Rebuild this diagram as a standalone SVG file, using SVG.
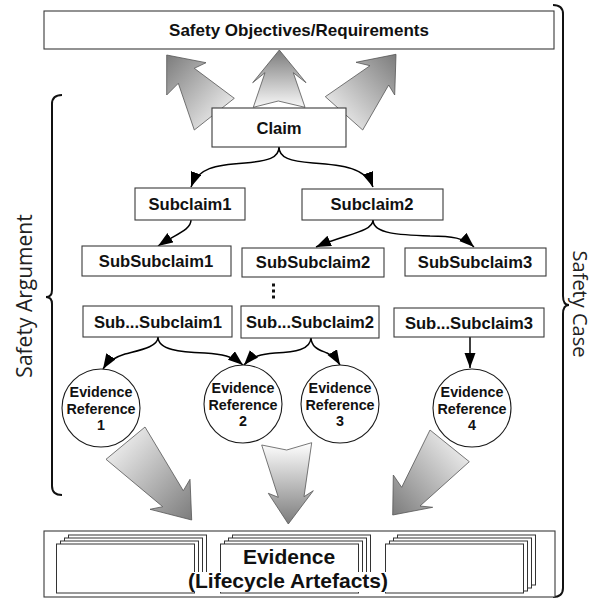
<svg xmlns="http://www.w3.org/2000/svg" width="596" height="603" viewBox="0 0 596 603">
<defs>
<style>
.box{fill:#fff;stroke:#3a3a3a;stroke-width:1.1}
.circ{fill:#fff;stroke:#1a1a1a;stroke-width:1.1}
.t{font-family:"Liberation Sans",Arial,sans-serif;font-weight:bold;fill:#111;text-anchor:middle}
.bt{font-size:16.6px}
.ct{font-size:14.3px}
.side{font-family:"Open Sans","Liberation Sans",sans-serif;font-size:21px;fill:#222;text-anchor:middle}
.con{fill:none;stroke:#000;stroke-width:1.5;marker-end:url(#ah)}
.brace{fill:none;stroke:#111;stroke-width:2}
.big{stroke:#555;stroke-width:0.8;stroke-linejoin:miter}
.sheet{fill:#fff;stroke:#333;stroke-width:1}
</style>
<marker id="ah" markerWidth="16" markerHeight="12" refX="15" refY="5.5" orient="auto" markerUnits="userSpaceOnUse">
<path d="M0,0 L15,5.5 L0,11 z" fill="#000"/>
</marker>
<linearGradient id="gUpL" x1="0" y1="0" x2="1" y2="1"><stop offset="0" stop-color="#7c7c7c"/><stop offset="1" stop-color="#ffffff"/></linearGradient>
<linearGradient id="gUpM" x1="0" y1="0" x2="0" y2="1"><stop offset="0" stop-color="#7c7c7c"/><stop offset="1" stop-color="#f8f8f8"/></linearGradient>
<linearGradient id="gUpR" x1="1" y1="0" x2="0" y2="1"><stop offset="0" stop-color="#7c7c7c"/><stop offset="1" stop-color="#ffffff"/></linearGradient>
<linearGradient id="gDnL" x1="0" y1="0" x2="1" y2="1"><stop offset="0" stop-color="#ffffff"/><stop offset="1" stop-color="#7c7c7c"/></linearGradient>
<linearGradient id="gDnM" x1="0" y1="0" x2="0" y2="1"><stop offset="0" stop-color="#ffffff"/><stop offset="1" stop-color="#7c7c7c"/></linearGradient>
<linearGradient id="gDnR" x1="1" y1="0" x2="0" y2="1"><stop offset="0" stop-color="#ffffff"/><stop offset="1" stop-color="#7c7c7c"/></linearGradient>
</defs>
<rect width="596" height="603" fill="#fff"/>

<!-- braces and side labels -->
<g id="safety-case">
<path class="brace" d="M553,5 Q563,5 563,14 L563,296 Q563,305 569,305 Q563,305 563,314 L563,588 Q563,597 553,597"/>
<text class="side" transform="translate(573,304) rotate(90)" font-size="20" style="font-size:20px">Safety Case</text>
</g>
<g id="safety-argument">
<path class="brace" d="M62,95 Q52,95 52,104 L52,290 Q52,297 46,297 Q52,297 52,304 L52,486 Q52,495 62,495"/>
<text class="side" transform="translate(32,296) rotate(-90)">Safety Argument</text>
</g>

<!-- big block arrows -->
<g id="big-arrows">
<polygon class="big" fill="url(#gUpL)" points="166.7,55 206,62.7 194.3,68.3 234.3,98.3 194.3,130 178.3,83.3 166.7,95"/>
<polygon class="big" fill="url(#gUpM)" points="279.3,50 306,82.7 293.3,72.7 305,107.3 278.3,101 253.3,107.3 265,72.7 252.7,82.7"/>
<polygon class="big" fill="url(#gUpR)" points="396,54.3 356,62.3 370,65.7 325.3,96.7 362.7,130 388.7,85 394.7,95"/>
<polygon class="big" fill="url(#gDnL)" points="145,427 183.3,490.7 190,479.3 191.7,520 150,509.3 162.7,506.7 106,459.3"/>
<polygon class="big" fill="url(#gDnM)" points="261.7,445 286.7,450 311.7,442.7 304,496.7 313.3,490.7 288.3,524 268.3,493.3 278.3,497.3"/>
<polygon class="big" fill="url(#gDnR)" points="430,430 401.7,487.3 393.3,475 392.7,515 432.7,507.3 420,506 469.3,461.7"/>
</g>

<!-- connectors -->
<g id="connectors">
<path class="con" d="M279,147 C279,158 268,161 245,163 C215,165 198,168 191,187"/>
<path class="con" d="M279,147 C279,158 290,161 313,163 C343,165 366,168 373,187"/>
<path class="con" d="M191,220 C191,230 176,234 158,246"/>
<path class="con" d="M373,220 C373,232 345,234 316,247"/>
<path class="con" d="M373,220 C373,234 400,235 430,236 C452,236 464,238 474,247"/>
<path class="con" d="M158,337 C158,347 140,350 125,354 C115,357 108,361 103,369"/>
<path class="con" d="M158,337 C158,350 180,352 205,353 C222,354 232,356 243,365"/>
<path class="con" d="M311,337 C311,350 295,352 275,353 C262,354 252,356 244,365"/>
<path class="con" d="M311,337 C311,348 320,350 327,353 C333,356 337,360 340,365"/>
<path class="con" d="M470,337 L470,368"/>
</g>

<!-- nodes -->
<g id="objectives">
<rect class="box" x="44" y="11" width="510" height="38"/>
<text class="t" x="299" y="36" font-size="17">Safety Objectives/Requirements</text>
</g>
<g id="claim">
<rect class="box" x="212" y="108" width="134" height="39"/>
<text class="t bt" x="279" y="134">Claim</text>
</g>
<g id="subclaim1">
<rect class="box" x="135" y="188" width="110" height="32"/>
<text class="t bt" x="190" y="210">Subclaim1</text>
</g>
<g id="subclaim2">
<rect class="box" x="302" y="189" width="141" height="31"/>
<text class="t bt" x="372" y="210">Subclaim2</text>
</g>
<g id="subsubclaim1">
<rect class="box" x="82" y="246" width="149" height="30"/>
<text class="t bt" x="156" y="267">SubSubclaim1</text>
</g>
<g id="subsubclaim2">
<rect class="box" x="242" y="248" width="142" height="29"/>
<text class="t bt" x="313" y="268">SubSubclaim2</text>
</g>
<g id="subsubclaim3">
<rect class="box" x="405" y="248" width="141" height="28"/>
<text class="t bt" x="475" y="268">SubSubclaim3</text>
</g>
<g id="ellipsis">
<rect x="272" y="283.5" width="3" height="3" fill="#111"/>
<rect x="272" y="289.5" width="3" height="3" fill="#111"/>
<rect x="272" y="295.5" width="3" height="3" fill="#111"/>
</g>
<g id="subdotsubclaim1">
<rect class="box" x="83" y="306" width="149" height="31"/>
<text class="t bt" x="158" y="328">Sub...Subclaim1</text>
</g>
<g id="subdotsubclaim2">
<rect class="box" x="241" y="306" width="138" height="32"/>
<text class="t bt" x="310" y="328">Sub...Subclaim2</text>
</g>
<g id="subdotsubclaim3">
<rect class="box" x="394" y="308" width="150" height="29"/>
<text class="t bt" x="469" y="329">Sub...Subclaim3</text>
</g>
<g id="evidence-ref-1">
<circle class="circ" cx="101" cy="408" r="39"/>
<text class="t ct" x="101" y="397">Evidence</text>
<text class="t ct" x="101" y="413.5">Reference</text>
<text class="t ct" x="101" y="430">1</text>
</g>
<g id="evidence-ref-2">
<circle class="circ" cx="243" cy="404" r="39"/>
<text class="t ct" x="243" y="393">Evidence</text>
<text class="t ct" x="243" y="409.5">Reference</text>
<text class="t ct" x="243" y="426">2</text>
</g>
<g id="evidence-ref-3">
<circle class="circ" cx="340" cy="404" r="39"/>
<text class="t ct" x="340" y="393">Evidence</text>
<text class="t ct" x="340" y="409.5">Reference</text>
<text class="t ct" x="340" y="426">3</text>
</g>
<g id="evidence-ref-4">
<circle class="circ" cx="472" cy="408" r="39"/>
<text class="t ct" x="472" y="397">Evidence</text>
<text class="t ct" x="472" y="413.5">Reference</text>
<text class="t ct" x="472" y="430">4</text>
</g>

<g id="evidence">
<rect class="box" x="44" y="531" width="511" height="66"/>
<g id="stack-left">
<rect class="sheet" x="68.5" y="535" width="138" height="50"/>
<rect class="sheet" x="64.5" y="538" width="138" height="50"/>
<rect class="sheet" x="60.5" y="541" width="138" height="50"/>
<rect class="sheet" x="56.5" y="544" width="138" height="49"/>
</g>
<g id="stack-middle">
<rect class="sheet" x="232.5" y="535" width="138" height="50"/>
<rect class="sheet" x="228.5" y="538" width="138" height="50"/>
<rect class="sheet" x="224.5" y="541" width="138" height="50"/>
<rect class="sheet" x="220.5" y="544" width="138" height="49"/>
</g>
<g id="stack-right">
<rect class="sheet" x="397.5" y="535" width="138" height="50"/>
<rect class="sheet" x="393.5" y="538" width="138" height="50"/>
<rect class="sheet" x="389.5" y="541" width="138" height="50"/>
<rect class="sheet" x="385.5" y="544" width="138" height="49"/>
</g>
<rect x="186" y="572" width="205" height="20" fill="#fff"/>
<text class="t" x="289" y="564" font-size="21">Evidence</text>
<text class="t" x="288" y="588" font-size="21">(Lifecycle Artefacts)</text>
</g>
</svg>
